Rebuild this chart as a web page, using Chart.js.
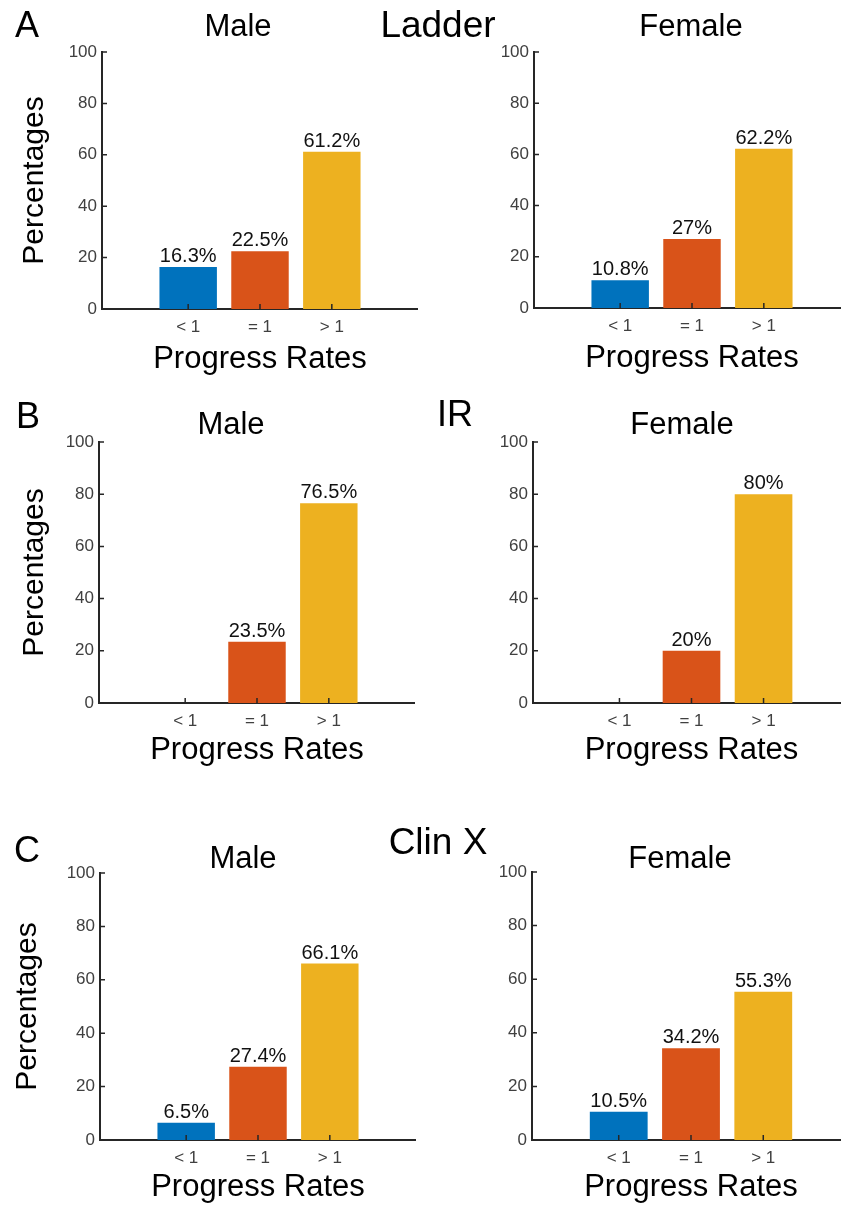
<!DOCTYPE html>
<html>
<head>
<meta charset="utf-8">
<script src="https://cdn.jsdelivr.net/npm/chart.js@4.4.1/dist/chart.umd.min.js"></script>
<style>
  html, body { margin: 0; padding: 0; background: #fff; overflow: hidden; }
  body { width: 841px; height: 1205px; position: relative; font-family: 'Liberation Sans', Arial, Helvetica, sans-serif; }
  .panel { position: absolute; }
  .lbl { position: absolute; transform: translate(-50%, -50%); line-height: 1; white-space: nowrap; color: #000; z-index: 2; }
</style>
</head>
<body>
<script>
// data
const categories = ['< 1', '= 1', '> 1'];
const ladderMale   = [16.3, 22.5, 61.2];
const ladderFemale = [10.8, 27, 62.2];
const irMale       = [0, 23.5, 76.5];
const irFemale     = [0, 20, 80];
const clinxMale    = [6.5, 27.4, 66.1];
const clinxFemale  = [10.5, 34.2, 55.3];
const yTicks = [0, 20, 40, 60, 80, 100];

const FONT = "'Liberation Sans', Arial, Helvetica, sans-serif";
const barColors = ['#0072BD', '#D95319', '#EDB120'];
const axisColor = '#262626';

// layout of each panel (canvas box + axis widths)
const panels = [
  { data: ladderMale,   left: 0,   top: 32,  w: 418, h: 347, yw: 102, yTitle: true, ytPad: 17, xtPad: 1 },
  { data: ladderFemale, left: 420, top: 32,  w: 430, h: 346, yw: 114, yTitle: false, xtPad: 1 },
  { data: irMale,       left: 0,   top: 422, w: 415, h: 351, yw: 99,  yTitle: true, ytPad: 17, xtPad: 4 },
  { data: irFemale,     left: 420, top: 422, w: 430, h: 351, yw: 113, yTitle: false, xtPad: 4 },
  { data: clinxMale,    left: 0,   top: 853, w: 416, h: 357, yw: 100, yTitle: true, ytPad: 10, xtPad: 4 },
  { data: clinxFemale,  left: 420, top: 852, w: 430, h: 358, yw: 112, yTitle: false, xtPad: 4 },
];

const labels = [
  { text: 'A', x: 27, y: 25, size: 36 },
  { text: 'Male', x: 238, y: 25, size: 31 },
  { text: 'Ladder', x: 438, y: 24, size: 37 },
  { text: 'Female', x: 691, y: 25, size: 31 },
  { text: 'B', x: 28, y: 416, size: 36 },
  { text: 'Male', x: 231, y: 423, size: 31 },
  { text: 'IR', x: 455, y: 414, size: 36 },
  { text: 'Female', x: 682, y: 423, size: 31 },
  { text: 'C', x: 27, y: 850, size: 36 },
  { text: 'Male', x: 243, y: 857, size: 31 },
  { text: 'Clin X', x: 438, y: 841, size: 37 },
  { text: 'Female', x: 680, y: 857, size: 31 },
];

labels.forEach(l => {
  const d = document.createElement('div');
  d.className = 'lbl';
  d.textContent = l.text;
  d.style.left = l.x + 'px';
  d.style.top = l.y + 'px';
  d.style.fontSize = l.size + 'px';
  document.body.appendChild(d);
});

// inward tick marks + value labels above the bars
const innerTicks = {
  id: 'innerTicks',
  afterDatasetsDraw(chart) {
    const { ctx, chartArea, scales: { x, y } } = chart;
    ctx.save();
    ctx.strokeStyle = axisColor;
    ctx.lineWidth = 1.5;
    ctx.beginPath();
    categories.forEach((c, i) => {
      const px = x.getPixelForValue(i + 1);
      ctx.moveTo(px, chartArea.bottom);
      ctx.lineTo(px, chartArea.bottom - 5);
    });
    yTicks.forEach(v => {
      const py = y.getPixelForValue(v);
      ctx.moveTo(chartArea.left, py);
      ctx.lineTo(chartArea.left + 5, py);
    });
    ctx.stroke();

    ctx.fillStyle = '#111';
    ctx.font = '20px ' + FONT;
    ctx.textAlign = 'center';
    ctx.textBaseline = 'alphabetic';
    chart.getDatasetMeta(0).data.forEach((bar, i) => {
      const v = chart.data.datasets[0].data[i].y;
      if (!v) return;
      ctx.fillText(v + '%', bar.x, bar.y - 5);
    });
    ctx.restore();
  }
};

panels.forEach((p) => {
  const box = document.createElement('div');
  box.className = 'panel';
  box.style.left = p.left + 'px';
  box.style.top = p.top + 'px';
  box.style.width = p.w + 'px';
  box.style.height = p.h + 'px';
  const cv = document.createElement('canvas');
  box.appendChild(cv);
  document.body.appendChild(box);

  new Chart(cv, {
    type: 'bar',
    data: {
      datasets: [{
        data: p.data.map((v, i) => ({ x: i + 1, y: v })),
        backgroundColor: barColors,
        borderWidth: 0,
        barPercentage: 0.8,
        categoryPercentage: 1,
      }]
    },
    options: {
      responsive: true,
      maintainAspectRatio: false,
      animation: false,
      layout: { padding: { top: 20, left: 0, right: 0, bottom: 0 } },
      plugins: { legend: { display: false }, tooltip: { enabled: false }, title: { display: false } },
      scales: {
        x: {
          type: 'linear',
          offset: false,
          min: -0.2,
          max: 4.2,
          afterBuildTicks: (s) => { s.ticks = categories.map((c, i) => ({ value: i + 1 })); },
          afterFit: (s) => { s.height = 70; },
          grid: { display: false, drawTicks: false },
          border: { display: true, color: axisColor, width: 2 },
          ticks: {
            autoSkip: false,
            maxRotation: 0,
            padding: 8,
            color: '#404040',
            font: { family: FONT, size: 17 },
            callback: (v) => categories[v - 1] ?? '',
          },
          title: {
            display: true,
            text: 'Progress Rates',
            color: '#000',
            font: { family: FONT, size: 31 },
            padding: { top: 0, bottom: p.xtPad },
          },
        },
        y: {
          min: 0,
          max: 100,
          afterFit: (s) => { s.width = p.yw; },
          grid: { display: false, drawTicks: false },
          border: { display: true, color: axisColor, width: 2 },
          ticks: {
            stepSize: 20,
            padding: 5,
            color: '#404040',
            font: { family: FONT, size: 17 },
          },
          title: {
            display: p.yTitle,
            text: 'Percentages',
            color: '#000',
            font: { family: FONT, size: 30 },
            padding: { top: p.ytPad || 0, bottom: 0 },
          },
        },
      },
    },
    plugins: [innerTicks],
  });
});
</script>
</body>
</html>
